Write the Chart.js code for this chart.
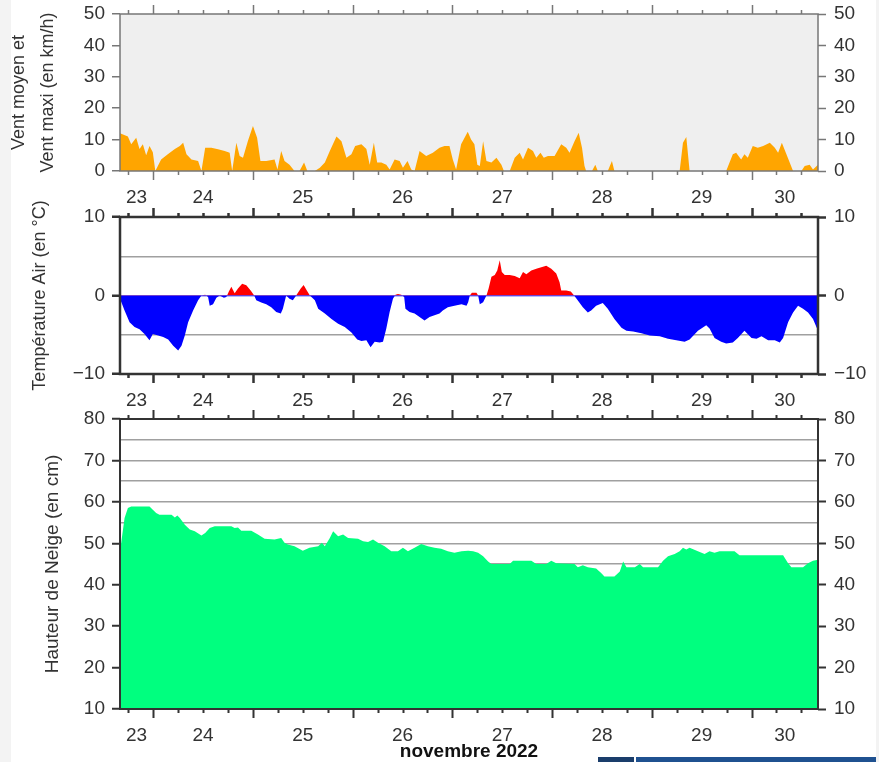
<!DOCTYPE html>
<html lang="fr">
<head>
<meta charset="UTF-8">
<title>Vent, température et hauteur de neige - novembre 2022</title>
<script src="https://cdn.jsdelivr.net/npm/chart.js"></script>
<style>
    html, body {
        margin: 0;
        background: #fff;
    }
    body {
        position: relative;
        width: 879px;
        height: 762px;
        overflow: hidden;
    }
    .panel {
        position: absolute;
        left: 0;
        width: 879px;
    }
    .side {
        position: absolute;
        top: 0;
        height: 762px;
        background: #f3f3f3;
    }
    .logo {
        position: absolute;
        top: 757px;
        height: 5px;
    }
</style>
</head>
<body>
    <div class="side" style="left:0;width:11px"></div>
    <div class="side" style="left:876px;width:3px"></div>
    <div class="panel" style="top:-6px;height:216px"><canvas id="windChart"></canvas></div>
    <div class="panel" style="top:197px;height:215px"><canvas id="tempChart"></canvas></div>
    <div class="panel" style="top:399px;height:363px"><canvas id="snowChart"></canvas></div>
    <div class="logo" style="left:598px;width:36px;background:#1a3d6b"></div>
    <div class="logo" style="left:636px;width:240px;background:#1f5190"></div>
    <script>
        // hours counted from 23 nov 16h
        const dayLabels = ['23', '24', '25', '26', '27', '28', '29', '30'];
        const dayLabelHours = [4, 20, 44, 68, 92, 116, 140, 160];
        const midnightHours = [8, 32, 56, 80, 104, 128, 152];

        // vent (km/h)
        const windHours = [
            0, 1.9, 2.7, 3.9, 4.7, 5.5, 6.3, 7.1, 7.9, 8.5,
            9.9, 11.5, 13.2, 14.4, 15.2, 16.0, 17.2, 18.8, 19.6, 20.5,
            22.0, 23.6, 25.2, 26.4, 27.0, 28.0, 28.8, 29.6, 30.8, 32.0,
            33.0, 33.8, 35.2, 37.2, 37.9, 38.8, 39.6, 40.8, 42.0, 43.2,
            44.3, 45.1, 46.9, 48.1, 49.3, 50.5, 52.1, 53.3, 54.5, 55.7,
            56.6, 58.1, 59.3, 60.1, 61.1, 61.9, 62.9, 64.1, 64.9, 66.1,
            67.3, 68.1, 69.2, 70.1, 70.9, 72.1, 73.7, 75.3, 76.9, 78.1,
            79.3, 80.1, 80.9, 82.1, 83.7, 84.5, 85.3, 86.0, 86.6, 87.4,
            88.2, 89.4, 90.6, 91.8, 92.4, 93.8, 95.0, 96.2, 97.0, 98.2,
            99.4, 100.2, 101.2, 102.0, 103.0, 104.6, 106.2, 107.4, 108.2, 109.4,
            110.4, 111.2, 111.8, 112.2, 113.6, 114.4, 115.0, 117.4, 118.4, 119.0,
            134.7, 135.5, 136.3, 137.1, 145.9, 147.5, 148.3, 149.5, 150.3, 151.1,
            152.3, 153.5, 154.8, 156.4, 157.6, 158.4, 159.3, 160.4, 162.0, 164.0,
            164.8, 166.0, 166.8, 168.0
        ];
        const windKmh = [
            12, 11, 8.5, 10.6, 7, 8.5, 5, 8, 6, 0,
            3.7, 5.3, 7, 8, 9, 5.3, 3.7, 3.2, 0, 7.4,
            7.4, 6.9, 6.4, 5.8, 0, 9, 4.8, 4.2, 9.6, 14.3,
            10.6, 3.2, 3.2, 3.7, 0.5, 6.4, 3.2, 2, 0, 0,
            2.7, 0, 0, 1, 2.7, 6.4, 11, 9.5, 4.2, 5.3,
            8, 8.5, 7, 2, 9, 2.7, 2.7, 2, 0.5, 3.7,
            3.2, 1, 3.2, 0.5, 0, 6.4, 4.8, 5.8, 7.4, 8,
            8, 3.7, 0.5, 8.5, 12.5, 10, 8.5, 2, 1.6, 9.5,
            3.2, 2.7, 4.2, 2, 0, 0, 4.2, 5.8, 3.7, 7.4,
            6.4, 4.2, 5.8, 4.2, 4.8, 4.8, 8.5, 7.4, 5.8, 9.5,
            12.2, 7.4, 1.6, 0, 0, 2, 0, 0, 3.2, 0,
            0, 9, 10.8, 0, 0, 5.3, 5.8, 3.7, 5.3, 4.2,
            8, 7.4, 8, 9, 7.4, 5.8, 9, 5.3, 0, 0,
            1.6, 2, 0.5, 2
        ];

        // température air (°C)
        const tempHours = [
            0, 1.1, 2.3, 3.5, 4.7, 5.9, 7.1, 7.9, 9.2, 10.4,
            11.6, 12.8, 14.0, 14.8, 15.6, 16.4, 17.6, 18.8, 19.6, 20.5,
            21.2, 21.6, 22.4, 23.2, 24.0, 25.0, 25.6, 26.2, 26.8, 27.6,
            28.4, 29.4, 30.4, 31.5, 32.3, 32.8, 34.0, 35.2, 36.4, 37.6,
            38.7, 39.2, 40.0, 40.8, 41.6, 42.4, 43.5, 44.2, 45.0, 45.7,
            46.9, 47.7, 49.3, 50.9, 52.5, 54.1, 55.7, 57.1, 58.1, 59.3,
            60.3, 61.3, 62.5, 63.3, 64.1, 64.9, 65.7, 66.3, 66.9, 67.7,
            68.4, 68.7, 69.7, 70.9, 72.1, 73.3, 74.5, 75.7, 76.9, 77.7,
            78.9, 80.5, 82.2, 83.4, 83.8, 84.2, 84.7, 85.8, 86.2, 86.6,
            87.4, 88.2, 88.7, 89.4, 90.2, 90.8, 91.4, 91.9, 92.6, 93.8,
            95.0, 96.2, 97.0, 97.8, 99.0, 100.2, 101.4, 102.6, 103.8, 105.0,
            105.8, 106.2, 107.4, 108.5, 109.3, 110.2, 111.4, 112.6, 113.4, 114.6,
            116.2, 117.4, 119.0, 120.7, 121.9, 123.5, 125.5, 127.5, 129.9, 131.9,
            133.9, 135.9, 137.1, 139.1, 141.1, 141.9, 143.1, 144.7, 145.9, 147.5,
            148.7, 150.3, 152.0, 153.2, 154.4, 156.0, 157.6, 158.8, 159.6, 160.8,
            162.0, 163.2, 164.4, 165.6, 166.8, 168.0
        ];
        const tempC = [
            -0.4, -1.9, -3.4, -4.0, -4.3, -4.9, -5.7, -4.9, -5.1, -5.3,
            -5.6, -6.4, -7.0, -6.4, -5.1, -3.4, -1.9, -0.6, 0, 0.1,
            -0.2, -1.3, -1.1, -0.3, 0, -0.3, -0.2, 0.5, 1.1, 0.3,
            0.9, 1.5, 1.3, 0.6, 0, -0.6, -0.9, -1.1, -1.5, -2.1,
            -2.3, -1.7, 0, -0.4, -0.6, 0, 0.9, 1.35, 0.6, 0,
            -0.6, -1.7, -2.3, -3.0, -3.6, -4.0, -4.7, -5.6, -5.8, -5.7,
            -6.6, -5.9, -6.0, -5.9, -4.2, -2.1, -0.4, 0.1, 0.2, 0.1,
            -0.2, -1.7, -2.1, -2.3, -2.75, -3.2, -2.75, -2.5, -2.3, -1.9,
            -1.5, -1.3, -1.1, -1.3, -0.85, 0, 0.35, 0.35, 0, -1.1,
            -0.85, 0, 0.85, 2.4, 2.6, 3.2, 4.5, 3.0, 2.6, 2.6,
            2.5, 2.2, 3.0, 2.7, 3.2, 3.4, 3.6, 3.8, 3.4, 2.8,
            1.7, 0.65, 0.65, 0.5, 0, -0.65, -1.5, -2.15, -1.9, -1.3,
            -0.95, -1.7, -3.0, -4.1, -4.5, -4.6, -4.8, -5.1, -5.2, -5.5,
            -5.7, -5.9, -5.6, -4.5, -3.8, -4.2, -5.4, -5.9, -6.1, -6.0,
            -5.4, -4.5, -5.4, -5.5, -5.2, -5.7, -5.7, -6.0, -5.4, -3.4,
            -2.15, -1.3, -1.7, -2.15, -3.0, -4.5
        ];

        // hauteur de neige (cm)
        const snowHours = [
            0, 1.1, 1.9, 2.7, 7.1, 7.9, 8.7, 9.5, 12.4, 13.2,
            13.8, 14.4, 15.6, 16.8, 18.0, 19.6, 20.5, 21.6, 22.8, 26.8,
            27.6, 28.4, 29.2, 31.6, 33.2, 34.8, 37.2, 38.8, 39.6, 40.4,
            42.0, 44.0, 45.6, 47.7, 48.6, 49.3, 50.5, 51.3, 52.5, 53.7,
            54.9, 57.3, 58.5, 59.7, 60.9, 62.1, 63.7, 65.3, 66.9, 68.1,
            69.3, 70.9, 72.5, 74.1, 75.7, 77.3, 78.9, 80.5, 82.2, 83.8,
            85.0, 86.2, 87.4, 88.6, 89.4, 93.8, 94.6, 99.0, 100.2, 102.6,
            103.8, 105.0, 109.4, 110.2, 111.4, 112.6, 114.6, 115.8, 116.6, 119.0,
            120.3, 121.1, 121.9, 123.9, 125.1, 125.9, 129.5, 130.7, 131.9, 133.5,
            134.7, 135.5, 136.3, 137.1, 139.1, 140.7, 141.9, 143.1, 144.3, 147.9,
            149.1, 159.6, 160.8, 161.6, 164.4, 165.6, 166.8, 168.0
        ];
        const snowCm = [
            48, 56.1, 58.5, 58.9, 58.9, 58.1, 57.3, 56.9, 56.9, 56.2,
            56.7, 56.1, 54.5, 53.3, 52.9, 51.9, 52.5, 53.7, 54.1, 54.1,
            53.7, 53.8, 53.0, 53.0, 52.1, 51.1, 50.9, 51.3, 50.1, 49.7,
            49.3, 48.2, 48.9, 49.3, 50.1, 49.3, 51.3, 52.9, 51.7, 52.1,
            51.3, 51.1, 50.5, 50.3, 50.9, 50.1, 49.3, 48.1, 48.1, 48.9,
            48.1, 48.9, 49.8, 49.3, 48.9, 48.7, 48.1, 47.7, 48.1, 48.2,
            48.1, 47.7, 46.9, 45.6, 45.0, 45.0, 45.8, 45.8, 45.0, 45.0,
            45.8, 45.2, 45.0, 44.2, 44.7, 44.2, 43.9, 42.8, 42.0, 42.0,
            43.2, 45.6, 44.2, 44.2, 45.0, 44.2, 44.2, 45.8, 46.9, 47.4,
            48.1, 48.9, 48.5, 48.9, 48.1, 47.4, 48.1, 47.7, 48.1, 48.1,
            47.1, 47.1, 45.2, 44.2, 44.2, 45.2, 45.8, 46.0
        ];

        const FONT = "'Liberation Sans', Arial, Helvetica, sans-serif";
        const TEXT = '#333';
        const GRID = '#a0a0a0';

        // 6h tick marks, longer at midnight
        const sixHourTicks = [];
        for (let h = 2; h < 168; h += 6) sixHourTicks.push(h);

        const points = (xs, ys) => xs.map((x, i) => ({ x: x, y: ys[i] }));

        const framePlugin = {
            id: 'frame',
            beforeDraw(chart, args, opts) {
                const { ctx, chartArea: a } = chart;
                if (opts.bg) {
                    ctx.save();
                    ctx.fillStyle = opts.bg;
                    ctx.fillRect(a.left, a.top, a.right - a.left, a.bottom - a.top);
                    ctx.restore();
                }
            },
            afterDraw(chart, args, opts) {
                const { ctx, chartArea: a } = chart;
                const x = chart.scales.x;
                ctx.save();
                ctx.strokeStyle = opts.color;
                ctx.lineWidth = opts.width;
                ctx.strokeRect(a.left, a.top, a.right - a.left, a.bottom - a.top);
                ctx.beginPath();
                sixHourTicks.forEach(h => {
                    const px = Math.round(x.getPixelForValue(h)) + 0.5;
                    const len = midnightHours.includes(h) ? 9 : 4;
                    ctx.moveTo(px, a.top);
                    ctx.lineTo(px, a.top - len);
                    ctx.moveTo(px, a.bottom);
                    ctx.lineTo(px, a.bottom + len);
                });
                ctx.stroke();
                ctx.restore();
            }
        };

        function minus(v) {
            return v < 0 ? '\u2212' + Math.abs(v) : String(v);
        }

        function makePanel(id, p) {
            const labelled = v => v % 10 === 0;
            const tickFont = { family: FONT, size: 19 };
            const yTicks = {
                stepSize: p.step,
                autoSkip: false,
                color: TEXT,
                font: tickFont,
                callback: v => labelled(v) ? minus(v) : ''
            };
            const tickColor = c => (c.tick && labelled(c.tick.value)) ? p.frame : 'transparent';

            return new Chart(document.getElementById(id), {
                type: 'line',
                data: { datasets: p.datasets },
                options: {
                    responsive: true,
                    maintainAspectRatio: false,
                    animation: false,
                    layout: { padding: { top: 20, left: 0, right: 0, bottom: 0 } },
                    elements: { point: { radius: 0 }, line: { tension: 0 } },
                    plugins: {
                        legend: { display: false },
                        tooltip: { enabled: false },
                        frame: { bg: p.bg, color: p.frame, width: p.frameWidth }
                    },
                    scales: {
                        x: {
                            type: 'linear',
                            position: 'bottom',
                            min: 0,
                            max: 168,
                            grid: { display: false, drawTicks: false },
                            border: { display: false },
                            afterBuildTicks: s => { s.ticks = dayLabelHours.map(v => ({ value: v })); },
                            afterFit: s => { s.height = p.xHeight; },
                            ticks: {
                                autoSkip: false,
                                maxRotation: 0,
                                padding: 15,
                                color: TEXT,
                                font: tickFont,
                                callback: (v, i) => dayLabels[i]
                            },
                            title: p.xTitle ? {
                                display: true,
                                text: p.xTitle,
                                color: '#111',
                                font: { family: FONT, size: 19, weight: 'bold', lineHeight: 1 },
                                padding: { top: 0, bottom: 0.5 }
                            } : { display: false }
                        },
                        y: {
                            position: 'left',
                            min: p.min,
                            max: p.max,
                            border: { display: false },
                            afterFit: s => { s.width = 120; },
                            ticks: Object.assign({ padding: 7 }, yTicks),
                            grid: {
                                drawOnChartArea: !!p.gridColor,
                                color: c => (p.gridColor && c.tick) ? p.gridColor(c.tick.value) : 'transparent',
                                lineWidth: 1.5,
                                tickLength: 8,
                                tickWidth: p.frameWidth,
                                tickColor: tickColor
                            },
                            title: {
                                display: true,
                                text: p.yTitle,
                                color: TEXT,
                                font: { family: FONT, size: p.yTitleSize, lineHeight: p.yTitleLine },
                                padding: { top: p.yTitlePad, bottom: 0 }
                            }
                        },
                        y2: {
                            position: 'right',
                            min: p.min,
                            max: p.max,
                            border: { display: false },
                            afterFit: s => { s.width = 61; },
                            ticks: Object.assign({ padding: 8 }, yTicks),
                            grid: {
                                drawOnChartArea: false,
                                tickLength: 8,
                                tickWidth: p.frameWidth,
                                tickColor: tickColor
                            }
                        }
                    }
                },
                plugins: [framePlugin]
            });
        }

        makePanel('windChart', {
            xHeight: 39,
            min: 0, max: 50, step: 10,
            bg: '#efefef', frame: '#777', frameWidth: 1.5,
            yTitle: ['Vent moyen et', 'Vent maxi (en km/h)'],
            yTitleSize: 18, yTitleLine: 1.6, yTitlePad: 5,
            datasets: [{
                data: points(windHours, windKmh),
                borderWidth: 0,
                borderColor: '#ffa500',
                backgroundColor: '#ffa500',
                fill: 'origin'
            }]
        });

        makePanel('tempChart', {
            xHeight: 38,
            min: -10, max: 10, step: 5,
            frame: '#333', frameWidth: 2.5,
            gridColor: v => v === 0 ? '#7070ff' : (Math.abs(v) === 5 ? GRID : 'transparent'),
            yTitle: 'Température Air (en °C)',
            yTitleSize: 18, yTitleLine: 1.2, yTitlePad: 29,
            datasets: [{
                data: points(tempHours, tempC),
                borderWidth: 0,
                borderColor: 'rgba(0,0,0,0)',
                fill: { target: { value: 0 }, above: '#ff0000', below: '#0000ff' }
            }]
        });

        makePanel('snowChart', {
            xHeight: 53,
            min: 10, max: 80, step: 5,
            frame: '#333', frameWidth: 2,
            gridColor: v => (v === 10 || v === 80) ? 'transparent' : GRID,
            yTitle: 'Hauteur de Neige (en cm)',
            yTitleSize: 19, yTitleLine: 1.2, yTitlePad: 41,
            xTitle: 'novembre 2022',
            datasets: [{
                data: points(snowHours, snowCm),
                borderWidth: 0,
                borderColor: '#00ff7f',
                backgroundColor: '#00ff7f',
                fill: 'start'
            }]
        });
    </script>
</body>
</html>
